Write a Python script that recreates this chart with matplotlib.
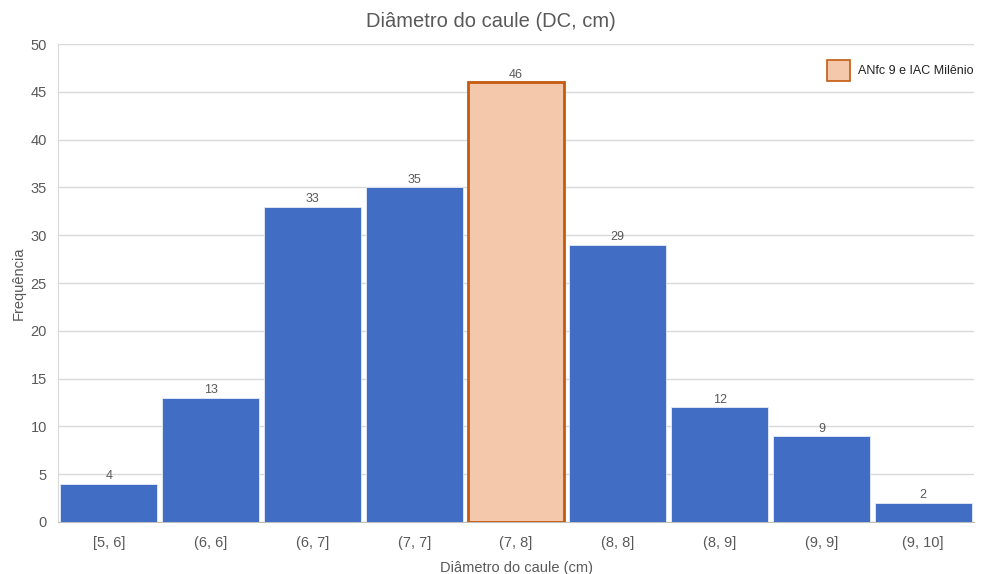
import matplotlib.pyplot as plt
import numpy as np

plt.rcParams['font.family'] = ['Liberation Sans', 'DejaVu Sans']

categories = ["[5, 6]", "(6, 6]", "(6, 7]", "(7, 7]", "(7, 8]",
              "(8, 8]", "(8, 9]", "(9, 9]", "(9, 10]"]
counts = [4, 13, 33, 35, 46, 29, 12, 9, 2]
highlight = "(7, 8]"
highlight_label = "ANfc 9 e IAC Milênio"

blue = "#416ec4"
peach = "#f4c8aa"
orange = "#c55a11"
gray_text = "#595959"

fig = plt.figure(figsize=(9.81, 5.74), dpi=100)
ax = fig.add_axes([0.059, 0.0906, 0.934, 0.8327])

x = np.arange(len(categories))
for i, (cat, n) in enumerate(zip(categories, counts)):
    if cat == highlight:
        ax.bar(i, n, width=0.95, color=peach, edgecolor=orange,
               linewidth=2, zorder=3, label=highlight_label)
    else:
        ax.bar(i, n, width=0.95, color=blue, edgecolor="#e6ecf7",
               linewidth=0.6, zorder=3)
    ax.text(i, n + 0.15, str(n), ha="center", va="bottom",
            fontsize=9, color=gray_text, zorder=4)

ax.set_xlim(-0.5, len(categories) - 0.5)
ax.set_ylim(0, 50)
ax.set_yticks(np.arange(0, 51, 5))
ax.set_xticks(x)
ax.set_xticklabels(categories)
ax.tick_params(axis="both", length=0, colors=gray_text, labelsize=10.5)
ax.tick_params(axis="x", pad=10)
ax.tick_params(axis="y", pad=8)
ax.grid(axis="y", color="#d9d9d9", linewidth=1, zorder=0)

for side in ("top", "right"):
    ax.spines[side].set_visible(False)
ax.spines["left"].set_color("#d9d9d9")
ax.spines["bottom"].set_color("#bfbfbf")

# title centred on the whole figure, not the axes
fig.text(0.5, 0.963, "Diâmetro do caule (DC, cm)", ha="center", va="center",
         fontsize=14.5, color=gray_text)
ax.set_xlabel("Diâmetro do caule (cm)", fontsize=10.5, color=gray_text, labelpad=8)
ax.set_ylabel("Frequência", fontsize=10.5, color=gray_text, labelpad=3)

leg = ax.legend(loc="upper right", bbox_to_anchor=(1.012, 0.99), frameon=False,
                fontsize=9, handlelength=1.85, handleheight=2.2, handletextpad=0.7)
for t in leg.get_texts():
    t.set_color("#222222")
for h in leg.legend_handles:
    h.set_linewidth(1.2)

fig.savefig("out.png", dpi=100)
